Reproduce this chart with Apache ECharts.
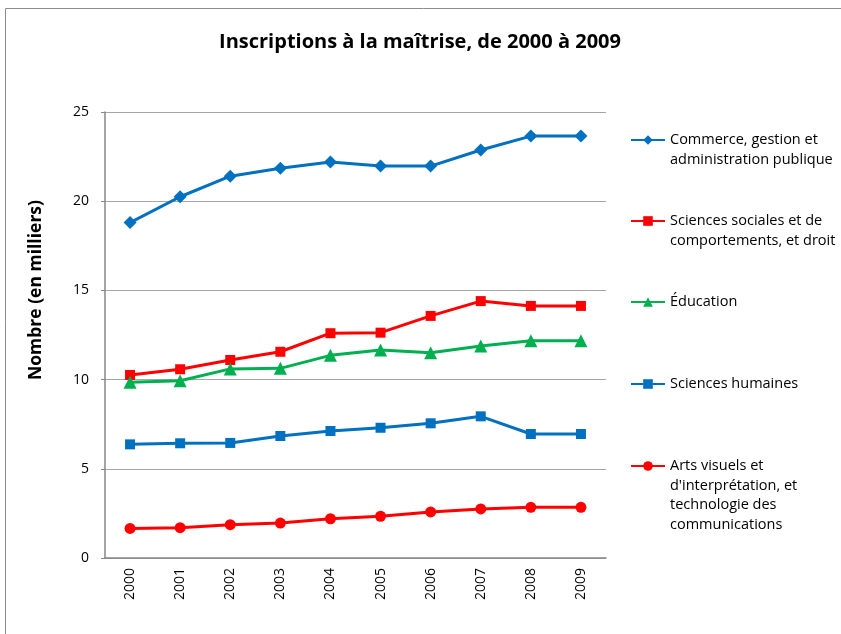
<!DOCTYPE html>
<html>
<head>
<meta charset="utf-8">
<script src="https://cdn.jsdelivr.net/npm/echarts@6/dist/echarts.min.js"></script>
<style>
  html, body { margin: 0; padding: 0; background: #fff; }
  #chart { width: 841px; height: 634px; }
</style>
</head>
<body>
<div id="chart"></div>
<script>
// données (en milliers)
const years = ['2000', '2001', '2002', '2003', '2004', '2005', '2006', '2007', '2008', '2009'];
const commerce = [18.8, 20.25, 21.4, 21.85, 22.2, 21.97, 21.97, 22.87, 23.65, 23.65];
const sciencesSociales = [10.26, 10.58, 11.1, 11.56, 12.6, 12.63, 13.57, 14.4, 14.13, 14.13];
const education = [9.85, 9.94, 10.6, 10.63, 11.36, 11.66, 11.5, 11.88, 12.18, 12.18];
const sciencesHumaines = [6.37, 6.43, 6.45, 6.84, 7.12, 7.3, 7.55, 7.94, 6.95, 6.95];
const artsVisuels = [1.66, 1.7, 1.87, 1.96, 2.2, 2.34, 2.58, 2.75, 2.84, 2.84];
const yTicks = [0, 5, 10, 15, 20, 25];

const seriesDefs = [
    { name: 'Commerce, gestion et\nadministration publique', data: commerce, color: '#0070C0', symbol: 'diamond', size: 13, y: 140 },
    { name: 'Sciences sociales et de\ncomportements, et droit', data: sciencesSociales, color: '#FF0000', symbol: 'rect', size: 10, y: 221 },
    { name: 'Éducation', data: education, color: '#00B050', symbol: 'triangle', size: 13, y: 302 },
    { name: 'Sciences humaines', data: sciencesHumaines, color: '#0070C0', symbol: 'rect', size: 10, y: 384 },
    { name: "Arts visuels et\nd'interprétation, et\ntechnologie des\ncommunications", data: artsVisuels, color: '#FF0000', symbol: 'circle', size: 11, y: 466 }
];

const font = 'Open Sans';
const lh = 19.5;

const chart = echarts.init(document.getElementById('chart'));
chart.setOption({
    animation: false,
    textStyle: { fontFamily: font },
    title: {
        text: 'Inscriptions à la maîtrise, de 2000 à 2009',
        left: 415,
        top: 27,
        textAlign: 'center',
        textStyle: { fontFamily: font, fontSize: 20, fontWeight: 'bold', color: '#000' }
    },
    graphic: [{
        type: 'rect',
        shape: { x: 5.5, y: 8.5, width: 900, height: 700 },
        style: { fill: 'none', stroke: '#8c8c8c', lineWidth: 1 },
        silent: true
    }],
    // une légende par série : la première ligne du texte est alignée sur le symbole
    legend: seriesDefs.map(s => {
        const n = s.name.split('\n').length;
        return {
            left: 630,
            top: s.y - (2 * n - 1) * lh / 2,
            padding: 0,
            itemWidth: 34,
            itemHeight: 12,
            itemGap: 0,
            selectedMode: false,
            data: [s.name],
            formatter: name => '\n'.repeat(n - 1) + name,
            textStyle: { fontFamily: font, fontSize: 14.5, color: '#000', lineHeight: lh }
        };
    }),
    grid: { left: 105, right: 235, top: 112, bottom: 76 },
    xAxis: {
        type: 'category',
        data: years,
        boundaryGap: true,
        axisLine: { lineStyle: { color: '#868686', width: 1.5 } },
        axisTick: { show: false },
        axisLabel: { rotate: 90, margin: 10, fontSize: 14, color: '#000', fontFamily: font }
    },
    yAxis: {
        type: 'value',
        min: yTicks[0],
        max: yTicks[yTicks.length - 1],
        interval: 5,
        name: 'Nombre (en milliers)',
        nameLocation: 'middle',
        nameGap: 60,
        nameRotate: 90,
        nameTextStyle: { fontFamily: font, fontSize: 17.5, fontWeight: 'bold', color: '#000', padding: [0, 0, 0, 90] },
        axisLine: { show: true, lineStyle: { color: '#868686', width: 1.5 } },
        axisTick: { show: true, length: 4, lineStyle: { color: '#868686' } },
        axisLabel: { margin: 16, fontSize: 14, color: '#000', fontFamily: font },
        splitLine: { lineStyle: { color: '#a6a6a6', width: 1 } }
    },
    series: seriesDefs.map(s => ({
        name: s.name,
        type: 'line',
        data: s.data,
        symbol: s.symbol,
        symbolSize: s.size,
        color: s.color,
        lineStyle: { color: s.color, width: 3 },
        itemStyle: { color: s.color }
    }))
});
</script>
</body>
</html>
